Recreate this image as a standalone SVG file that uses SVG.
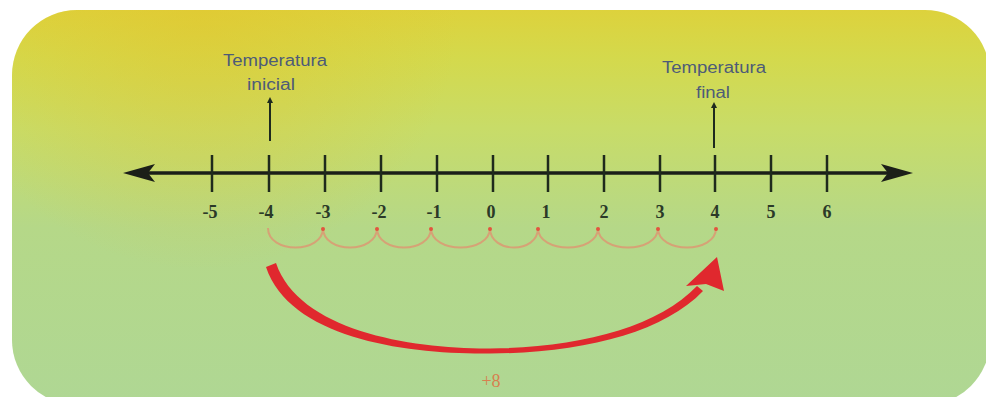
<svg xmlns="http://www.w3.org/2000/svg" width="986" height="397" viewBox="0 0 986 397">
<defs>
<linearGradient id="bg" x1="0" y1="0" x2="0" y2="1">
<stop offset="0" stop-color="#ddd23c"/>
<stop offset="0.12" stop-color="#d4d94c"/>
<stop offset="0.3" stop-color="#c8dc68"/>
<stop offset="0.55" stop-color="#b5d888"/>
<stop offset="1" stop-color="#afd794"/>
</linearGradient>
<radialGradient id="glow" cx="200" cy="10" r="260" gradientUnits="userSpaceOnUse">
<stop offset="0" stop-color="#e3c42c" stop-opacity="0.5"/>
<stop offset="1" stop-color="#e3c42c" stop-opacity="0"/>
</radialGradient>
<marker id="dot" viewBox="0 0 6 6" refX="3" refY="3" markerWidth="6" markerHeight="6" markerUnits="userSpaceOnUse">
<path d="M0,6 L3,0 L6,6 Z" fill="#1e2a1e"/>
</marker>
</defs>
<style>
.tick{stroke:#1f2a1c;stroke-width:2.5}
.num{font-family:"Liberation Serif","DejaVu Serif",serif;font-weight:bold;font-size:18px;fill:#2b3a28;text-anchor:middle}
.lbl{font-family:"Liberation Sans","DejaVu Sans",sans-serif;font-size:16px;fill:#4d5b78;text-anchor:middle}
.hop{fill:none;stroke:#d6a276;stroke-width:2}
.jd{fill:#e2553e}
.pt{stroke:#1e2a1e;stroke-width:2;marker-start:url(#dot)}
</style>
<rect x="12" y="10" width="978" height="395" rx="65" fill="url(#bg)"/>
<rect x="12" y="10" width="978" height="395" rx="65" fill="url(#glow)"/>

<g id="connectors">
<line x1="140" y1="173" x2="898" y2="173" stroke="#1b1f18" stroke-width="3.5"/>
<path d="M123,173 L155,164 L148,173 L155,182 Z" fill="#1b1f18"/>
<path d="M913,173 L881,164 L888,173 L881,182 Z" fill="#1b1f18"/>
<line class="pt" x1="270" y1="100" x2="270" y2="141"/>
<line class="pt" x1="714" y1="105" x2="714" y2="148"/>
<g id="hops">
<path class="hop" d="M268,228 C268,254 323,254 323,228"/>
<path class="hop" d="M323,228 C323,254 377,254 377,228"/>
<path class="hop" d="M377,228 C377,254 431,254 431,228"/>
<path class="hop" d="M431,228 C431,254 490,254 490,228"/>
<path class="hop" d="M490,228 C490,254 538,254 538,228"/>
<path class="hop" d="M538,228 C538,254 598,254 598,228"/>
<path class="hop" d="M598,228 C598,254 658,254 658,228"/>
<path class="hop" d="M658,228 C658,254 716,254 716,228"/>
<circle class="jd" cx="323" cy="229" r="2"/>
<circle class="jd" cx="377" cy="229" r="2"/>
<circle class="jd" cx="431" cy="229" r="2"/>
<circle class="jd" cx="490" cy="229" r="2"/>
<circle class="jd" cx="538" cy="229" r="2"/>
<circle class="jd" cx="598" cy="229" r="2"/>
<circle class="jd" cx="658" cy="229" r="2"/>
<circle class="jd" cx="716" cy="229" r="2"/>
</g>
<g id="jump">
<path d="M276,263 C299,331 412,349 490,348.5 C578,347.5 657,328 697,286 L703,291 C663,333 582,353 490,353.5 C408,354.5 290,339 266,267 Z" fill="#e0282e"/>
<path d="M717,257 L724,291 L706,284 L686,286 Z" fill="#e0282e"/>
</g>
</g>

<g id="ticks">
<line class="tick" x1="212" y1="155" x2="212" y2="192"/>
<line class="tick" x1="269" y1="155" x2="269" y2="192"/>
<line class="tick" x1="325" y1="155" x2="325" y2="192"/>
<line class="tick" x1="381" y1="155" x2="381" y2="192"/>
<line class="tick" x1="437" y1="155" x2="437" y2="192"/>
<line class="tick" x1="493" y1="155" x2="493" y2="192"/>
<line class="tick" x1="548" y1="155" x2="548" y2="192"/>
<line class="tick" x1="604" y1="155" x2="604" y2="192"/>
<line class="tick" x1="660" y1="155" x2="660" y2="192"/>
<line class="tick" x1="715" y1="155" x2="715" y2="192"/>
<line class="tick" x1="771" y1="155" x2="771" y2="192"/>
<line class="tick" x1="827" y1="155" x2="827" y2="192"/>
</g>

<g id="numbers">
<text class="num" x="210" y="218">-5</text>
<text class="num" x="266" y="218">-4</text>
<text class="num" x="323" y="218">-3</text>
<text class="num" x="379" y="218">-2</text>
<text class="num" x="434" y="218">-1</text>
<text class="num" x="491" y="218">0</text>
<text class="num" x="546" y="218">1</text>
<text class="num" x="604" y="218">2</text>
<text class="num" x="660" y="218">3</text>
<text class="num" x="715" y="218">4</text>
<text class="num" x="771" y="218">5</text>
<text class="num" x="827" y="218">6</text>
</g>

<g id="initial">
<text class="lbl" x="275" y="66" textLength="104" lengthAdjust="spacingAndGlyphs">Temperatura</text>
<text class="lbl" x="271" y="90" textLength="48" lengthAdjust="spacingAndGlyphs">inicial</text>
</g>
<g id="final">
<text class="lbl" x="714" y="73" textLength="104" lengthAdjust="spacingAndGlyphs">Temperatura</text>
<text class="lbl" x="713" y="98" textLength="34" lengthAdjust="spacingAndGlyphs">final</text>
</g>
<g id="change">
<text x="491" y="387" font-family="Liberation Serif, DejaVu Serif, serif" font-size="18" fill="#d8804f" text-anchor="middle">+8</text>
</g>
</svg>
